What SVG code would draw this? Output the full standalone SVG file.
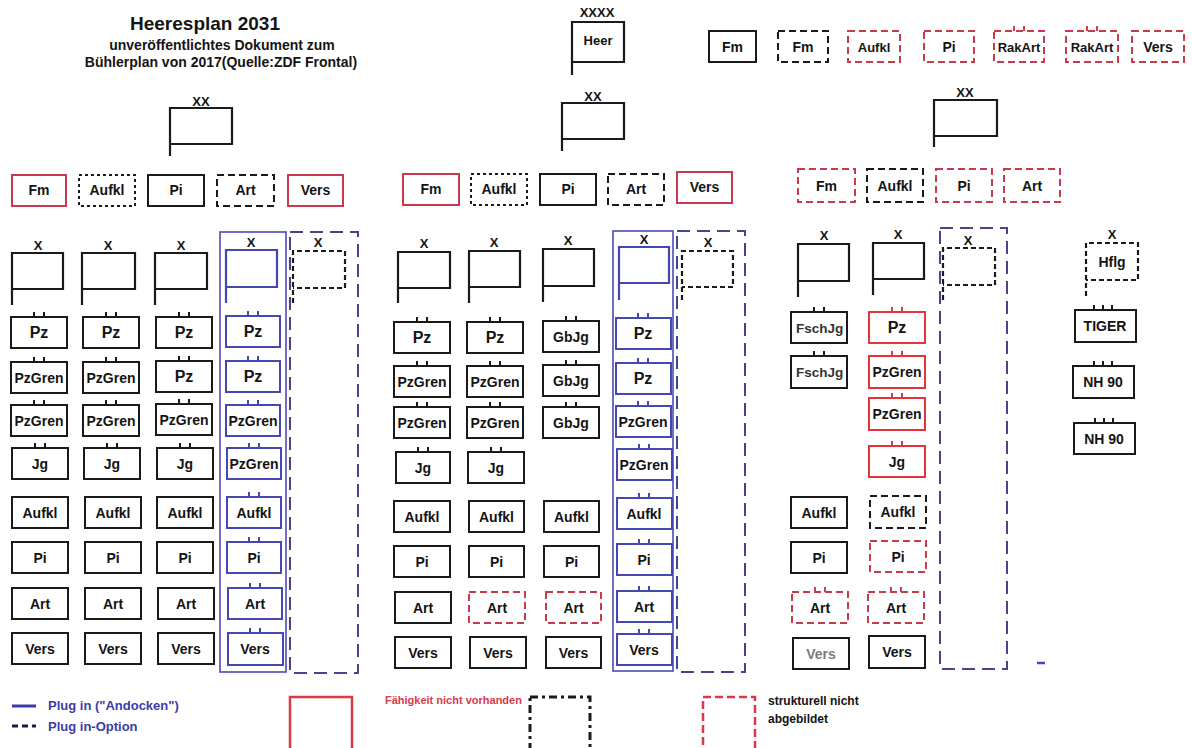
<svg xmlns="http://www.w3.org/2000/svg" xmlns:xlink="http://www.w3.org/1999/xlink" width="1192" height="748" viewBox="0 0 1192 748">
<style>
.k{fill:#fff;stroke:#1a1a1a;stroke-width:2}
.kr{fill:#fff;stroke:#c63c4c;stroke-width:2}
.kR{fill:#fff;stroke:#e6353a;stroke-width:2}
.kb{fill:#fff;stroke:#4646b4;stroke-width:2}
.ds{stroke-dasharray:7 4}
.dt{stroke-dasharray:3 3}
.f{fill:none;stroke:#1a1a1a;stroke-width:2.2}
.fb{fill:none;stroke:#4646b4;stroke-width:2.2}
.fd{fill:none;stroke:#1a1a1a;stroke-width:2.2;stroke-dasharray:5 3}
.cb{fill:none;stroke:#4a4ab8;stroke-width:1.6}
.cd{fill:none;stroke:#45458c;stroke-width:2;stroke-dasharray:13 7}
.tk{fill:none;stroke:#1a1a1a;stroke-width:2}
.tkr{fill:none;stroke:#d83a48;stroke-width:2}
.tkb{fill:none;stroke:#4646b4;stroke-width:2}
text{font-family:"Liberation Sans",Arial,sans-serif;font-weight:bold}
.t{font-size:14px;text-anchor:middle;fill:#141414}
.big{font-size:16px}
.sm{font-size:13px}
.x{font-size:13px;text-anchor:middle;fill:#141414}
.lg{font-size:12px;fill:#141414}
</style>
<defs>
<path id="t2" d="M-5 0v-5M5 0v-5"/>
<path id="t3" d="M-9 0v-5M0 0v-5M9 0v-5"/>
</defs>

<g id="title">
<text x="205" y="30" style="font-size:19px;text-anchor:middle;fill:#141414">Heeresplan 2031</text>
<text x="222" y="50" style="font-size:14px;text-anchor:middle;fill:#141414">unveröffentlichtes Dokument zum</text>
<text x="221" y="67" style="font-size:14px;text-anchor:middle;fill:#141414">Bühlerplan von 2017(Quelle:ZDF Frontal)</text>
</g>

<g id="connectors"></g>

<!-- Heer top -->
<g id="heer"><path class="f" d="M572 75V22H624V62H572"/><text class="x" x="597" y="17">XXXX</text><text class="t sm" x="598" y="45">Heer</text></g>
<g id="top-fm"><rect class="k" x="709" y="31" width="47" height="31"/><text class="t" x="732.5" y="52">Fm</text></g>
<g id="top-fm2"><rect class="k ds" x="778" y="31" width="50" height="31"/><text class="t" x="803" y="52">Fm</text></g>
<g id="top-aufkl"><rect class="kr ds" x="848" y="31" width="52" height="31"/><text class="t sm" x="874" y="52">Aufkl</text></g>
<g id="top-pi"><rect class="kr ds" x="924" y="31" width="50" height="31"/><text class="t" x="949" y="52">Pi</text></g>
<g id="top-rakart1"><rect class="kr ds" x="994" y="31" width="50" height="31"/><use href="#t2" class="tkr" x="1019" y="31"/><text class="t sm" x="1019" y="52">RakArt</text></g>
<g id="top-rakart2"><rect class="kr ds" x="1066" y="31" width="52" height="31"/><use href="#t2" class="tkr" x="1092" y="31"/><text class="t sm" x="1092" y="52">RakArt</text></g>
<g id="top-vers"><rect class="kr ds" x="1132" y="31" width="52" height="31"/><text class="t" x="1158" y="52">Vers</text></g>

<!-- Division 1 -->
<g id="d1-hq"><path class="f" d="M170 156V108H232V144H170"/><text class="x" x="201" y="106">XX</text></g>
<g id="d1-fm"><rect class="kr" x="12" y="175" width="54" height="31"/><text class="t" x="39" y="195">Fm</text></g>
<g id="d1-aufkl"><rect class="k dt" x="79" y="175" width="56" height="31"/><text class="t" x="107" y="195">Aufkl</text></g>
<g id="d1-pi"><rect class="k" x="148" y="175" width="56" height="31"/><text class="t" x="176" y="195">Pi</text></g>
<g id="d1-art"><rect class="k ds" x="217" y="175" width="57" height="31"/><text class="t" x="245.5" y="195">Art</text></g>
<g id="d1-vers"><rect class="kr" x="288" y="175" width="55" height="31"/><text class="t" x="315.5" y="195">Vers</text></g>

<g id="d1-b1"><path class="f" d="M12 305V253H63V289H12"/><text class="x" x="38" y="250">X</text></g>
<g id="d1-b2"><path class="f" d="M82 305V253H135V289H82"/><text class="x" x="108" y="250">X</text></g>
<g id="d1-b3"><path class="f" d="M155 305V253H207V289H155"/><text class="x" x="181" y="250">X</text></g>
<g id="d1-b4"><rect class="cb" x="220" y="232" width="66" height="440"/><path class="fb" d="M226 303V250H277V287H226"/><text class="x" x="251" y="247">X</text></g>
<g id="d1-b5"><rect class="cd" x="290" y="232" width="68" height="441"/><path class="fd" d="M293 303V251H345V288H293"/><text class="x" x="318" y="247">X</text></g>

<!-- d1 col1 -->
<g id="d1-c1-1"><rect class="k" x="11" y="317" width="56" height="31"/><use href="#t2" class="tk" x="39" y="317"/><text class="t big" x="39" y="338">Pz</text></g>
<g id="d1-c1-2"><rect class="k" x="11" y="362" width="56" height="31"/><use href="#t2" class="tk" x="39" y="362"/><text class="t" x="39" y="383">PzGren</text></g>
<g id="d1-c1-3"><rect class="k" x="11" y="405" width="56" height="31"/><use href="#t2" class="tk" x="39" y="405"/><text class="t" x="39" y="426">PzGren</text></g>
<g id="d1-c1-4"><rect class="k" x="12" y="448" width="56" height="31"/><use href="#t2" class="tk" x="40" y="448"/><text class="t" x="40" y="469">Jg</text></g>
<g id="d1-c1-5"><rect class="k" x="12" y="497" width="56" height="31"/><text class="t" x="40" y="518">Aufkl</text></g>
<g id="d1-c1-6"><rect class="k" x="12" y="542" width="56" height="31"/><text class="t" x="40" y="563">Pi</text></g>
<g id="d1-c1-7"><rect class="k" x="12" y="588" width="56" height="31"/><text class="t" x="40" y="609">Art</text></g>
<g id="d1-c1-8"><rect class="k" x="12" y="633" width="56" height="31"/><text class="t" x="40" y="654">Vers</text></g>
<!-- d1 col2 -->
<g id="d1-c2-1"><rect class="k" x="83" y="317" width="56" height="31"/><use href="#t2" class="tk" x="111" y="317"/><text class="t big" x="111" y="338">Pz</text></g>
<g id="d1-c2-2"><rect class="k" x="83" y="362" width="56" height="31"/><use href="#t2" class="tk" x="111" y="362"/><text class="t" x="111" y="383">PzGren</text></g>
<g id="d1-c2-3"><rect class="k" x="83" y="405" width="56" height="31"/><use href="#t2" class="tk" x="111" y="405"/><text class="t" x="111" y="426">PzGren</text></g>
<g id="d1-c2-4"><rect class="k" x="84" y="448" width="56" height="31"/><use href="#t2" class="tk" x="112" y="448"/><text class="t" x="112" y="469">Jg</text></g>
<g id="d1-c2-5"><rect class="k" x="85" y="497" width="56" height="31"/><text class="t" x="113" y="518">Aufkl</text></g>
<g id="d1-c2-6"><rect class="k" x="85" y="542" width="56" height="31"/><text class="t" x="113" y="563">Pi</text></g>
<g id="d1-c2-7"><rect class="k" x="85" y="588" width="56" height="31"/><text class="t" x="113" y="609">Art</text></g>
<g id="d1-c2-8"><rect class="k" x="85" y="633" width="56" height="31"/><text class="t" x="113" y="654">Vers</text></g>
<!-- d1 col3 -->
<g id="d1-c3-1"><rect class="k" x="156" y="317" width="56" height="31"/><use href="#t2" class="tk" x="184" y="317"/><text class="t big" x="184" y="338">Pz</text></g>
<g id="d1-c3-2"><rect class="k" x="156" y="361" width="56" height="31"/><use href="#t2" class="tk" x="184" y="361"/><text class="t big" x="184" y="382">Pz</text></g>
<g id="d1-c3-3"><rect class="k" x="156" y="404" width="56" height="31"/><use href="#t2" class="tk" x="184" y="404"/><text class="t" x="184" y="425">PzGren</text></g>
<g id="d1-c3-4"><rect class="k" x="157" y="448" width="56" height="31"/><use href="#t2" class="tk" x="185" y="448"/><text class="t" x="185" y="469">Jg</text></g>
<g id="d1-c3-5"><rect class="k" x="157" y="497" width="56" height="31"/><text class="t" x="185" y="518">Aufkl</text></g>
<g id="d1-c3-6"><rect class="k" x="157" y="542" width="56" height="31"/><text class="t" x="185" y="563">Pi</text></g>
<g id="d1-c3-7"><rect class="k" x="158" y="588" width="56" height="31"/><text class="t" x="186" y="609">Art</text></g>
<g id="d1-c3-8"><rect class="k" x="158" y="633" width="56" height="31"/><text class="t" x="186" y="654">Vers</text></g>
<!-- d1 col4 blue -->
<g id="d1-c4-1"><rect class="kb" x="226" y="316" width="54" height="31"/><use href="#t2" class="tkb" x="253" y="316"/><text class="t big" x="253" y="337">Pz</text></g>
<g id="d1-c4-2"><rect class="kb" x="226" y="361" width="54" height="31"/><use href="#t2" class="tkb" x="253" y="361"/><text class="t big" x="253" y="382">Pz</text></g>
<g id="d1-c4-3"><rect class="kb" x="226" y="405" width="54" height="31"/><use href="#t2" class="tkb" x="253" y="405"/><text class="t" x="253" y="426">PzGren</text></g>
<g id="d1-c4-4"><rect class="kb" x="227" y="448" width="54" height="31"/><use href="#t2" class="tkb" x="254" y="448"/><text class="t" x="254" y="469">PzGren</text></g>
<g id="d1-c4-5"><rect class="kb" x="227" y="497" width="54" height="31"/><use href="#t2" class="tkb" x="254" y="497"/><text class="t" x="254" y="518">Aufkl</text></g>
<g id="d1-c4-6"><rect class="kb" x="227" y="542" width="54" height="31"/><use href="#t2" class="tkb" x="254" y="542"/><text class="t" x="254" y="563">Pi</text></g>
<g id="d1-c4-7"><rect class="kb" x="228" y="588" width="54" height="31"/><use href="#t2" class="tkb" x="255" y="588"/><text class="t" x="255" y="609">Art</text></g>
<g id="d1-c4-8"><rect class="kb" x="228" y="633" width="55" height="32"/><use href="#t2" class="tkb" x="255" y="633"/><text class="t" x="255" y="654">Vers</text></g>

<!-- Division 2 -->
<g id="d2-hq"><path class="f" d="M562 151V103H624V139H562"/><text class="x" x="593" y="101">XX</text></g>
<g id="d2-fm"><rect class="kr" x="403" y="174" width="56" height="31"/><text class="t" x="431" y="194">Fm</text></g>
<g id="d2-aufkl"><rect class="k dt" x="471" y="174" width="56" height="31"/><text class="t" x="499" y="194">Aufkl</text></g>
<g id="d2-pi"><rect class="k" x="540" y="174" width="56" height="31"/><text class="t" x="568" y="194">Pi</text></g>
<g id="d2-art"><rect class="k ds" x="608" y="174" width="56" height="31"/><text class="t" x="636" y="194">Art</text></g>
<g id="d2-vers"><rect class="kr" x="677" y="172" width="55" height="31"/><text class="t" x="704.5" y="192">Vers</text></g>

<g id="d2-b1"><path class="f" d="M398 303V252H450V288H398"/><text class="x" x="424" y="248">X</text></g>
<g id="d2-b2"><path class="f" d="M469 303V251H520V287H469"/><text class="x" x="494" y="247">X</text></g>
<g id="d2-b3"><path class="f" d="M543 302V249H594V286H543"/><text class="x" x="568" y="245">X</text></g>
<g id="d2-b4"><rect class="cb" x="613" y="231" width="60" height="440"/><path class="fb" d="M619 300V247H669V283H619"/><text class="x" x="644" y="244">X</text></g>
<g id="d2-b5"><rect class="cd" x="677" y="231" width="68" height="441"/><path class="fd" d="M682 300V251H733V287H682"/><text class="x" x="708" y="247">X</text></g>

<g id="d2-c1-1"><rect class="k" x="394" y="322" width="56" height="31"/><use href="#t2" class="tk" x="422" y="322"/><text class="t big" x="422" y="343">Pz</text></g>
<g id="d2-c1-2"><rect class="k" x="394" y="366" width="56" height="31"/><use href="#t2" class="tk" x="422" y="366"/><text class="t" x="422" y="387">PzGren</text></g>
<g id="d2-c1-3"><rect class="k" x="394" y="407" width="56" height="31"/><use href="#t2" class="tk" x="422" y="407"/><text class="t" x="422" y="428">PzGren</text></g>
<g id="d2-c1-4"><rect class="k" x="396" y="452" width="54" height="31"/><use href="#t2" class="tk" x="423" y="452"/><text class="t" x="423" y="473">Jg</text></g>
<g id="d2-c1-5"><rect class="k" x="394" y="501" width="56" height="31"/><text class="t" x="422" y="522">Aufkl</text></g>
<g id="d2-c1-6"><rect class="k" x="394" y="546" width="56" height="31"/><text class="t" x="422" y="567">Pi</text></g>
<g id="d2-c1-7"><rect class="k" x="395" y="592" width="56" height="31"/><text class="t" x="423" y="613">Art</text></g>
<g id="d2-c1-8"><rect class="k" x="395" y="637" width="56" height="31"/><text class="t" x="423" y="658">Vers</text></g>

<g id="d2-c2-1"><rect class="k" x="467" y="322" width="56" height="31"/><use href="#t2" class="tk" x="495" y="322"/><text class="t big" x="495" y="343">Pz</text></g>
<g id="d2-c2-2"><rect class="k" x="467" y="366" width="56" height="31"/><use href="#t2" class="tk" x="495" y="366"/><text class="t" x="495" y="387">PzGren</text></g>
<g id="d2-c2-3"><rect class="k" x="467" y="407" width="56" height="31"/><use href="#t2" class="tk" x="495" y="407"/><text class="t" x="495" y="428">PzGren</text></g>
<g id="d2-c2-4"><rect class="k" x="468" y="452" width="56" height="31"/><use href="#t2" class="tk" x="496" y="452"/><text class="t" x="496" y="473">Jg</text></g>
<g id="d2-c2-5"><rect class="k" x="469" y="501" width="55" height="31"/><text class="t" x="496.5" y="522">Aufkl</text></g>
<g id="d2-c2-6"><rect class="k" x="469" y="546" width="55" height="31"/><text class="t" x="496.5" y="567">Pi</text></g>
<g id="d2-c2-7"><rect class="kr ds" x="469" y="592" width="56" height="31"/><text class="t" x="497" y="613">Art</text></g>
<g id="d2-c2-8"><rect class="k" x="470" y="637" width="56" height="31"/><text class="t" x="498" y="658">Vers</text></g>

<g id="d2-c3-1"><rect class="k" x="543" y="321" width="56" height="31"/><use href="#t2" class="tk" x="571" y="321"/><text class="t" x="571" y="342">GbJg</text></g>
<g id="d2-c3-2"><rect class="k" x="543" y="365" width="56" height="31"/><use href="#t2" class="tk" x="571" y="365"/><text class="t" x="571" y="386">GbJg</text></g>
<g id="d2-c3-3"><rect class="k" x="543" y="407" width="56" height="31"/><use href="#t2" class="tk" x="571" y="407"/><text class="t" x="571" y="428">GbJg</text></g>
<g id="d2-c3-5"><rect class="k" x="544" y="501" width="55" height="31"/><text class="t" x="571.5" y="522">Aufkl</text></g>
<g id="d2-c3-6"><rect class="k" x="544" y="546" width="55" height="31"/><text class="t" x="571.5" y="567">Pi</text></g>
<g id="d2-c3-7"><rect class="kr ds" x="546" y="592" width="55" height="31"/><text class="t" x="573.5" y="613">Art</text></g>
<g id="d2-c3-8"><rect class="k" x="546" y="637" width="55" height="31"/><text class="t" x="573.5" y="658">Vers</text></g>

<g id="d2-c4-1"><rect class="kb" x="616" y="318" width="55" height="31"/><use href="#t2" class="tkb" x="643" y="318"/><text class="t big" x="643" y="339">Pz</text></g>
<g id="d2-c4-2"><rect class="kb" x="616" y="363" width="55" height="31"/><use href="#t2" class="tkb" x="643" y="363"/><text class="t big" x="643" y="384">Pz</text></g>
<g id="d2-c4-3"><rect class="kb" x="616" y="406" width="55" height="31"/><use href="#t2" class="tkb" x="643" y="406"/><text class="t" x="643" y="427">PzGren</text></g>
<g id="d2-c4-4"><rect class="kb" x="617" y="449" width="55" height="31"/><use href="#t2" class="tkb" x="644" y="449"/><text class="t" x="644" y="470">PzGren</text></g>
<g id="d2-c4-5"><rect class="kb" x="617" y="498" width="55" height="31"/><use href="#t2" class="tkb" x="644" y="498"/><text class="t" x="644" y="519">Aufkl</text></g>
<g id="d2-c4-6"><rect class="kb" x="617" y="544" width="55" height="31"/><use href="#t2" class="tkb" x="644" y="544"/><text class="t" x="644" y="565">Pi</text></g>
<g id="d2-c4-7"><rect class="kb" x="617" y="591" width="55" height="31"/><use href="#t2" class="tkb" x="644" y="591"/><text class="t" x="644" y="612">Art</text></g>
<g id="d2-c4-8"><rect class="kb" x="617" y="634" width="55" height="31"/><use href="#t2" class="tkb" x="644" y="634"/><text class="t" x="644" y="655">Vers</text></g>

<!-- Division 3 -->
<g id="d3-hq"><path class="f" d="M934 147V100H997V136H934"/><text class="x" x="965" y="97">XX</text></g>
<g id="d3-fm"><rect class="kr ds" x="798" y="169" width="57" height="33"/><text class="t" x="826.5" y="191">Fm</text></g>
<g id="d3-aufkl"><rect class="k ds" x="867" y="169" width="56" height="33"/><text class="t" x="895" y="191">Aufkl</text></g>
<g id="d3-pi"><rect class="kr ds" x="936" y="169" width="56" height="33"/><text class="t" x="964" y="191">Pi</text></g>
<g id="d3-art"><rect class="kr ds" x="1004" y="169" width="56" height="33"/><text class="t" x="1032" y="191">Art</text></g>

<g id="d3-b1"><path class="f" d="M798 297V244H849V281H798"/><text class="x" x="824" y="240">X</text></g>
<g id="d3-b2"><path class="f" d="M873 295V243H924V279H873"/><text class="x" x="898" y="239">X</text></g>
<g id="d3-b3"><rect class="cd" x="940" y="228" width="67" height="441"/><path class="fd" d="M943 300V248H995V285H943"/><text class="x" x="968" y="245">X</text></g>
<g id="d3-hflg"><path class="fd" d="M1086 296V243H1138V280H1086"/><text class="x" x="1112" y="239">X</text><text class="t" x="1112" y="267">Hflg</text></g>

<g id="d3-c1-1"><rect class="k" x="791" y="312" width="56" height="31"/><use href="#t2" class="tk" x="819" y="312"/><text class="t" x="796" y="333" style="text-anchor:start;font-size:13.5px;fill:#333">FschJg</text></g>
<g id="d3-c1-2"><rect class="k" x="791" y="356" width="56" height="32"/><use href="#t2" class="tk" x="819" y="356"/><text class="t" x="796" y="377" style="text-anchor:start;font-size:13.5px;fill:#333">FschJg</text></g>
<g id="d3-c1-5"><rect class="k" x="791" y="497" width="56" height="31"/><text class="t" x="819" y="518">Aufkl</text></g>
<g id="d3-c1-6"><rect class="k" x="791" y="542" width="56" height="31"/><text class="t" x="819" y="563">Pi</text></g>
<g id="d3-c1-7"><rect class="kr ds" x="792" y="592" width="56" height="31"/><use href="#t2" class="tkr" x="820" y="592"/><text class="t" x="820" y="613">Art</text></g>
<g id="d3-c1-8"><rect class="k" x="793" y="638" width="56" height="31"/><text class="t" x="821" y="659" style="fill:#7a7a7a">Vers</text></g>

<g id="d3-c2-1"><rect class="kR" x="869" y="312" width="56" height="31"/><use href="#t2" class="tkr" x="897" y="312"/><text class="t big" x="897" y="333">Pz</text></g>
<g id="d3-c2-2"><rect class="kR" x="869" y="356" width="56" height="32"/><use href="#t2" class="tkr" x="897" y="356"/><text class="t" x="897" y="377">PzGren</text></g>
<g id="d3-c2-3"><rect class="kR" x="869" y="398" width="56" height="32"/><use href="#t2" class="tkr" x="897" y="398"/><text class="t" x="897" y="419">PzGren</text></g>
<g id="d3-c2-4"><rect class="kR" x="869" y="446" width="56" height="31"/><use href="#t2" class="tkr" x="897" y="446"/><text class="t" x="897" y="467">Jg</text></g>
<g id="d3-c2-5"><rect class="k ds" x="870" y="496" width="56" height="32"/><text class="t" x="898" y="517">Aufkl</text></g>
<g id="d3-c2-6"><rect class="kr ds" x="870" y="541" width="56" height="31"/><text class="t" x="898" y="562">Pi</text></g>
<g id="d3-c2-7"><rect class="kr ds" x="868" y="592" width="56" height="31"/><use href="#t2" class="tkr" x="896" y="592"/><text class="t" x="896" y="613">Art</text></g>
<g id="d3-c2-8"><rect class="k" x="869" y="636" width="56" height="32"/><text class="t" x="897" y="657">Vers</text></g>

<g id="d3-tiger"><rect class="k" x="1075" y="310" width="61" height="32"/><use href="#t3" class="tk" x="1103" y="310"/><text class="t" x="1105" y="331">TIGER</text></g>
<g id="d3-nh1"><rect class="k" x="1073" y="366" width="61" height="32"/><use href="#t3" class="tk" x="1103" y="366"/><text class="t" x="1103" y="387">NH 90</text></g>
<g id="d3-nh2"><rect class="k" x="1074" y="423" width="61" height="31"/><use href="#t3" class="tk" x="1104" y="423"/><text class="t" x="1104" y="444">NH 90</text></g>
<g id="d3-mark"><line x1="1037" y1="663" x2="1045" y2="663" stroke="#4646b4" stroke-width="2.5"/></g>

<!-- Legend -->
<g id="legend">
<line x1="12" y1="706" x2="36" y2="706" stroke="#3c3ca8" stroke-width="3"/>
<text x="48" y="710" style="font-size:13px;fill:#3c3ca8">Plug in ("Andocken")</text>
<line x1="12" y1="726" x2="36" y2="726" stroke="#1a1a50" stroke-width="3" stroke-dasharray="6 4"/>
<text x="48" y="731" style="font-size:13px;fill:#3c3ca8">Plug in-Option</text>
<rect x="290" y="697" width="62" height="62" fill="#fff" stroke="#d83a48" stroke-width="2.5"/>
<text x="385" y="704" style="font-size:11px;fill:#d83a48">Fähigkeit nicht vorhanden</text>
<rect x="530" y="697" width="60" height="62" fill="#fff" stroke="#1a1a1a" stroke-width="3" stroke-dasharray="8 4 3 4"/>
<rect x="703" y="697" width="52" height="62" fill="#fff" stroke="#d83a48" stroke-width="2.5" stroke-dasharray="8 4"/>
<text class="lg" x="768" y="705">strukturell  nicht</text>
<text class="lg" x="768" y="723">abgebildet</text>
</g>
</svg>
